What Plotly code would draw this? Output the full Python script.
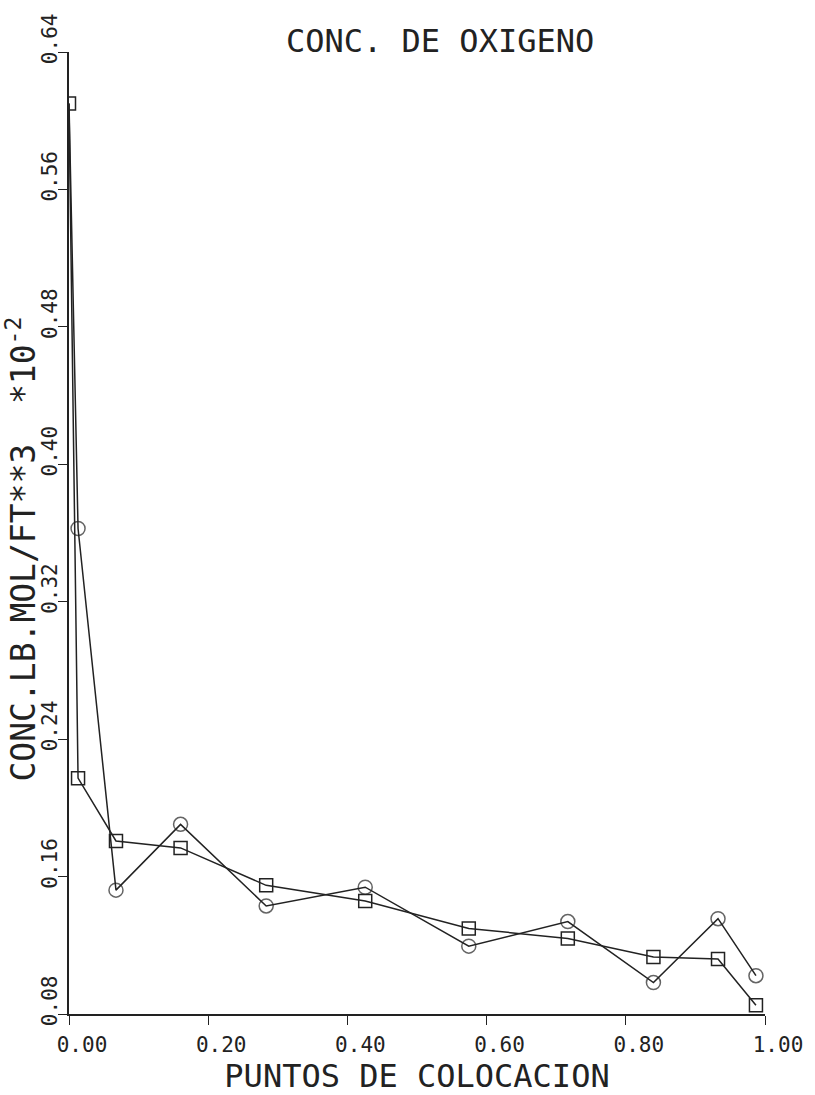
import plotly.graph_objects as go

# Collocation points (x) and concentrations (*10^-2)
puntos = [0.0, 0.013, 0.0675, 0.1603, 0.2833, 0.4256, 0.5744, 0.7167, 0.8397, 0.9325, 0.9870]
conc_cuadros = [0.610, 0.2173, 0.1807, 0.1767, 0.1549, 0.1458, 0.1298, 0.1240, 0.1132, 0.1120, 0.0851]
conc_circulos = [0.610, 0.3626, 0.1521, 0.1904, 0.1429, 0.1538, 0.1195, 0.1338, 0.0983, 0.1355, 0.1023]

x_ticks = [0.0, 0.2, 0.4, 0.6, 0.8, 1.0]
x_ticktext = ["0.00", "0.20", "0.40", "0.60", "0.80", "1.00"]
y_ticks = [0.08, 0.16, 0.24, 0.32, 0.40, 0.48, 0.56, 0.64]
y_ticktext = ["0.08", "0.16", "0.24", "0.32", "0.40", "0.48", "0.56", "0.64"]

INK = "#222222"
FONT = "DejaVu Sans Mono"

fig = go.Figure()
fig.add_trace(go.Scatter(
    x=puntos, y=conc_circulos, mode="lines+markers",
    line=dict(color=INK, width=1.5),
    marker=dict(symbol="circle-open", size=[0] + [14] * (len(puntos) - 1),
                color=INK, line=dict(color=INK, width=1.5)),
    showlegend=False,
))
fig.add_trace(go.Scatter(
    x=puntos, y=conc_cuadros, mode="lines+markers",
    line=dict(color=INK, width=1.5),
    marker=dict(symbol="square-open", size=13, color=INK,
                line=dict(color=INK, width=1.5)),
    showlegend=False,
))

fig.update_layout(
    width=815, height=1095,
    margin=dict(l=69, r=45, t=52, b=64),
    paper_bgcolor="white", plot_bgcolor="white",
    font=dict(family=FONT, color=INK, size=21),
    title=dict(text="CONC. DE OXIGENO", x=0.54, xanchor="center",
               y=1 - 41 / 1095, yanchor="middle",
               font=dict(family=FONT, size=32, color=INK)),
    xaxis=dict(
        range=[0, 1], tickvals=x_ticks, ticktext=x_ticktext,
        showline=True, linecolor=INK, linewidth=1.6,
        ticks="outside", ticklen=9, tickwidth=1.4, tickcolor=INK,
        showgrid=False, zeroline=False,
        tickfont=dict(family=FONT, size=21, color=INK),
        ticklabelshift=13, ticklabelstandoff=2,
        title=dict(text="PUNTOS DE COLOCACION", standoff=4,
                   font=dict(family=FONT, size=32, color=INK)),
    ),
    yaxis=dict(
        range=[0.08, 0.64], tickvals=y_ticks, ticktext=y_ticktext,
        showline=True, linecolor=INK, linewidth=1.6,
        ticks="outside", ticklen=9, tickwidth=1.4, tickcolor=INK,
        showgrid=False, zeroline=False, tickangle=-90,
        tickfont=dict(family=FONT, size=21, color=INK),
        ticklabelshift=-10, ticklabelstandoff=-7,
    ),
    annotations=[dict(
        text="CONC.LB.MOL/FT**3  *10<sup>-2</sup>",
        xref="paper", yref="paper", x=(21 - 69) / 701, y=(1031 - 558) / 979,
        xanchor="center", yanchor="middle", textangle=-90, showarrow=False,
        font=dict(family=FONT, size=33, color=INK),
    )],
)

fig.write_html("out.html")
